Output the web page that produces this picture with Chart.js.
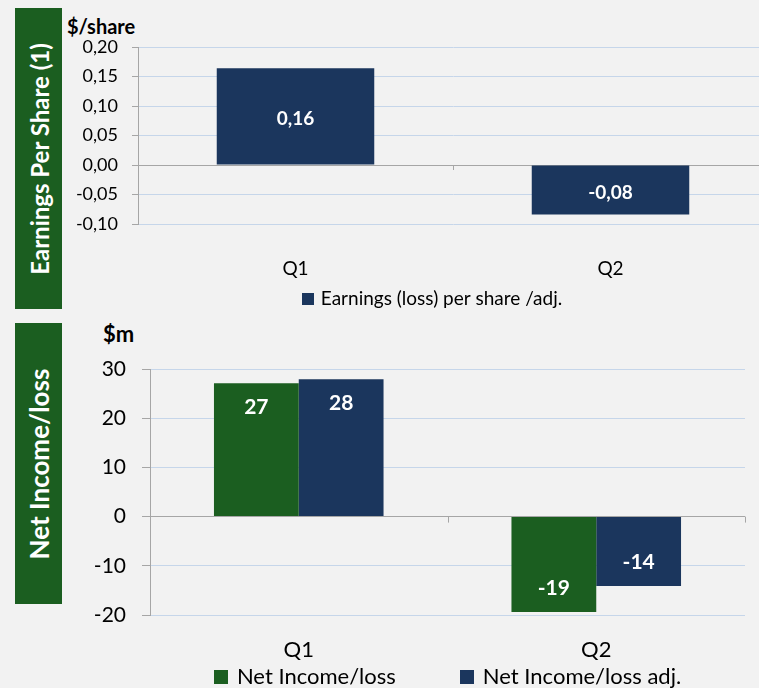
<!DOCTYPE html>
<html>
<head>
<meta charset="utf-8">
<script src="https://cdn.jsdelivr.net/npm/chart.js@4.4.0/dist/chart.umd.min.js"></script>
<style>
  html, body { margin: 0; padding: 0; background: #f2f2f2; overflow: hidden; width: 759px; height: 688px; }
  body { position: relative; font-family: Lato, sans-serif; }
  .side { position: absolute; left: 15px; width: 47px; background: #1b5e20; }
  .side span { position: absolute; left: 50%; top: 50%; transform: translate(-50%, -50%) rotate(-90deg);
    white-space: nowrap; color: #fff; font-weight: bold; }
  .unit { position: absolute; font-weight: bold; color: #000; line-height: 1; }
  canvas { position: absolute; left: 0; }
</style>
</head>
<body>
<div class="side" style="top:8px;height:301px"><span style="font-size:24px">Earnings Per Share (1)</span></div>
<div class="side" style="top:323px;height:281px"><span style="font-size:26px">Net Income/loss</span></div>
<div class="unit" style="left:67px;top:16px;font-size:20px">$/share</div>
<div class="unit" style="left:103px;top:323px;font-size:22px">$m</div>
<canvas id="eps" width="864" height="320" style="top:0"></canvas>
<canvas id="net" width="759" height="368" style="top:320px"></canvas>
<script>
// data
const quarters = ["Q1", "Q2"];
const epsValues = [0.164, -0.084];
const epsTicks = [-0.1, -0.05, 0, 0.05, 0.1, 0.15, 0.2];
const netIncome = [27.1, -19.4];
const netIncomeAdj = [27.9, -14.1];
const netTicks = [-20, -10, 0, 10, 20, 30];

const navy = "#1b365d";
const green = "#1b5e20";
const gridBlue = "#c6d6ea";
const axisGray = "#a6a6a6";
const FONT = "Lato, sans-serif";

const commaFmt = (v) => v.toFixed(2).replace(".", ",");

// white value labels on the bars
const valueLabels = {
  id: "valueLabels",
  afterDatasetsDraw(chart, args, opts) {
    const ctx = chart.ctx;
    ctx.save();
    ctx.font = opts.font;
    ctx.fillStyle = "#fff";
    ctx.textAlign = "center";
    ctx.textBaseline = "middle";
    chart.data.datasets.forEach((ds, i) => {
      chart.getDatasetMeta(i).data.forEach((bar, j) => {
        const v = ds.data[j];
        let y = (bar.y + bar.base) / 2 + (opts.dy || 0);
        if (opts.inset != null) y = v >= 0 ? bar.y + opts.inset : bar.y - opts.inset;
        ctx.fillText(opts.format(v), bar.x, y);
      });
    });
    ctx.restore();
  }
};

// small category tick marks on the zero line
const zeroTicks = {
  id: "zeroTicks",
  afterDatasetsDraw(chart, args, opts) {
    const { ctx, scales: { x, y } } = chart;
    const y0 = y.getPixelForValue(0);
    const step = x.width / chart.data.labels.length;
    ctx.save();
    ctx.strokeStyle = axisGray;
    ctx.lineWidth = 1;
    for (let i = 0; i < chart.data.labels.length; i++) {
      const px = Math.round(x.getPixelForValue(i) + step / 2) + 0.5;
      ctx.beginPath();
      ctx.moveTo(px, y0);
      ctx.lineTo(px, y0 + opts.length);
      ctx.stroke();
    }
    ctx.restore();
  }
};

// one-row legend under the axis labels
const rowLegend = {
  id: "rowLegend",
  afterDraw(chart, args, opts) {
    const { ctx, chartArea } = chart;
    ctx.save();
    ctx.font = opts.font;
    const items = chart.data.datasets.map((ds) => ({
      text: ds.label,
      color: ds.backgroundColor,
      w: opts.box + opts.textGap + ctx.measureText(ds.label).width
    }));
    const total = items.reduce((s, it) => s + it.w, 0) + opts.gap * (items.length - 1);
    const cx = opts.onArea ? (chartArea.left + chartArea.right) / 2 : chart.width / 2;
    let x = cx - total / 2;
    const y = chartArea.bottom + opts.offset;
    ctx.textBaseline = "middle";
    items.forEach((it) => {
      ctx.fillStyle = it.color;
      ctx.fillRect(Math.round(x), Math.round(y - opts.box / 2), opts.box, opts.box);
      ctx.fillStyle = "#000";
      ctx.fillText(it.text, x + opts.box + opts.textGap, y);
      x += it.w + opts.gap;
    });
    ctx.restore();
  }
};

function yScale(ticks, width, fontSize, tickLen, pad, fmt) {
  return {
    min: ticks[0],
    max: ticks[ticks.length - 1],
    afterBuildTicks: (s) => { s.ticks = ticks.map((v) => ({ value: v })); },
    afterFit: (s) => { s.width = width; },
    ticks: { callback: fmt, font: { family: FONT, size: fontSize }, color: "#000", padding: pad },
    grid: {
      color: (c) => (c.tick && c.tick.value === 0 ? axisGray : gridBlue),
      tickColor: axisGray,
      tickLength: tickLen
    },
    border: { color: axisGray }
  };
}

function xScale(fontSize, pad, h) {
  return {
    grid: { display: false, drawTicks: false },
    border: { display: false },
    afterFit: (s) => { s.height = h; },
    ticks: { font: { family: FONT, size: fontSize }, color: "#000", padding: pad }
  };
}

new Chart(document.getElementById("eps"), {
  type: "bar",
  data: {
    labels: quarters,
    datasets: [
      { label: "Earnings (loss) per share /adj.", data: epsValues, backgroundColor: navy,
        categoryPercentage: 0.5, barPercentage: 1 }
    ]
  },
  options: {
    responsive: false,
    animation: false,
    layout: { padding: { top: 47, right: 96, bottom: 36, left: 0 } },
    plugins: {
      legend: { display: false },
      tooltip: { enabled: false },
      valueLabels: { font: "bold 19px " + FONT, format: commaFmt, dy: 3 },
      zeroTicks: { length: 5 },
      rowLegend: { font: "19px " + FONT, box: 12, textGap: 7, gap: 40, offset: 75, onArea: false }
    },
    scales: {
      x: xScale(19, 33, 60),
      y: yScale(epsTicks, 138, 18, 6, 14, (v) => commaFmt(v))
    }
  },
  plugins: [valueLabels, zeroTicks, rowLegend]
});

new Chart(document.getElementById("net"), {
  type: "bar",
  data: {
    labels: quarters,
    datasets: [
      { label: "Net Income/loss", data: netIncome, backgroundColor: green,
        categoryPercentage: 0.57, barPercentage: 1 },
      { label: "Net Income/loss adj.", data: netIncomeAdj, backgroundColor: navy,
        categoryPercentage: 0.57, barPercentage: 1 }
    ]
  },
  options: {
    responsive: false,
    animation: false,
    layout: { padding: { top: 49, right: 14, bottom: 23, left: 0 } },
    plugins: {
      legend: { display: false },
      tooltip: { enabled: false },
      valueLabels: { font: "bold 21px " + FONT, format: (v) => String(Math.round(v)), inset: 24 },
      zeroTicks: { length: 6 },
      rowLegend: { font: "22px " + FONT, box: 14, textGap: 9, gap: 64, offset: 62, onArea: true }
    },
    scales: {
      x: xScale(22, 22, 50),
      y: yScale(netTicks, 150, 21, 8, 16, (v) => String(v))
    }
  },
  plugins: [valueLabels, zeroTicks, rowLegend]
});
</script>
</body>
</html>
